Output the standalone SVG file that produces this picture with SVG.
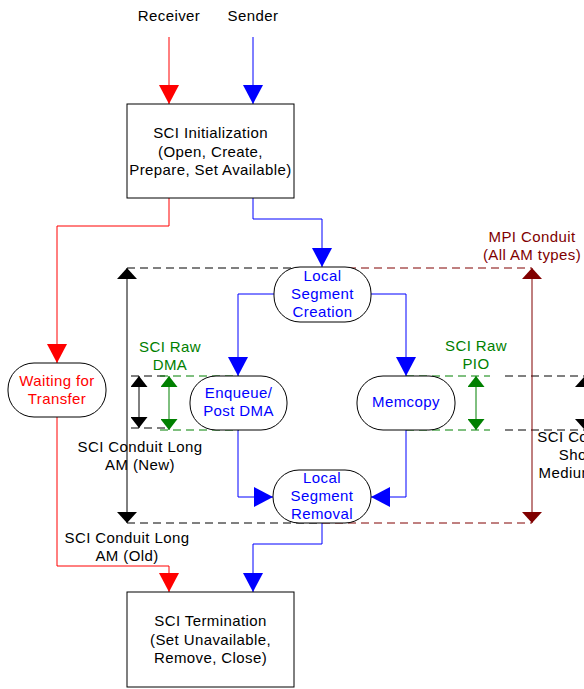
<svg xmlns="http://www.w3.org/2000/svg" width="584" height="689" viewBox="0 0 584 689">
  <style>
    text { font-family: "Liberation Sans", Arial, sans-serif; font-size: 15px; letter-spacing: 0.4px; text-anchor: middle; }
    .box { fill: #ffffff; stroke: #000000; stroke-width: 1; }
    .pill { fill: #ffffff; stroke: #000000; stroke-width: 1; }
    .k { fill: #000000; }
    .r { fill: #ff0000; }
    .b { fill: #0000ff; }
    .g { fill: #008000; }
    .m { fill: #800000; }
    .wire { fill: none; stroke-width: 1; }
    .red { stroke: #ff0000; }
    .blue { stroke: #0000ff; }
    .dash { fill: none; stroke-width: 1; stroke-dasharray: 8 5; }
    .dk { stroke: #000000; }
    .dg { stroke: #008000; }
    .dm { stroke: #800000; }
  </style>
  <defs>
    <marker id="ah-red" viewBox="0 0 19 20" refX="19" refY="10" markerWidth="19" markerHeight="20" markerUnits="userSpaceOnUse" orient="auto">
      <path d="M0,0 L19,10 L0,20 Z" fill="#ff0000"/>
    </marker>
    <marker id="ah-blue" viewBox="0 0 19 20" refX="19" refY="10" markerWidth="19" markerHeight="20" markerUnits="userSpaceOnUse" orient="auto">
      <path d="M0,0 L19,10 L0,20 Z" fill="#0000ff"/>
    </marker>
    <marker id="dim-black" viewBox="0 0 11 20" refX="11" refY="10" markerWidth="11" markerHeight="20" markerUnits="userSpaceOnUse" orient="auto-start-reverse">
      <path d="M0,0 L11,10 L0,20 Z" fill="#000000"/>
    </marker>
    <marker id="dim-maroon" viewBox="0 0 11 20" refX="11" refY="10" markerWidth="11" markerHeight="20" markerUnits="userSpaceOnUse" orient="auto-start-reverse">
      <path d="M0,0 L11,10 L0,20 Z" fill="#800000"/>
    </marker>
    <marker id="dim-black-s" viewBox="0 0 11 17" refX="11" refY="8.5" markerWidth="11" markerHeight="17" markerUnits="userSpaceOnUse" orient="auto-start-reverse">
      <path d="M0,0 L11,8.5 L0,17 Z" fill="#000000"/>
    </marker>
    <marker id="dim-green-s" viewBox="0 0 11 17" refX="11" refY="8.5" markerWidth="11" markerHeight="17" markerUnits="userSpaceOnUse" orient="auto-start-reverse">
      <path d="M0,0 L11,8.5 L0,17 Z" fill="#008000"/>
    </marker>
  </defs>

  <!-- dimension guides and extents -->
  <g id="extents">
    <path class="dash dk" d="M127,268 H322"/>
    <path class="dash dm" d="M322,268 H532"/>
    <path class="dash dk" d="M127,523 H322"/>
    <path class="dash dm" d="M322,523 H532"/>
    <path class="dash dk" d="M131,376 H165"/>
    <path class="dash dk" d="M131,428 H165"/>
    <path class="dash dg" d="M160,376 H239"/>
    <path class="dash dg" d="M160,430 H239"/>
    <path class="dash dg" d="M406,376 H490"/>
    <path class="dash dg" d="M406,430 H490"/>
    <path class="dash dk" d="M505,376 H595"/>
    <path class="dash dk" d="M505,430 H595"/>

    <line x1="127" y1="268" x2="127" y2="523" stroke="#000000" marker-start="url(#dim-black)" marker-end="url(#dim-black)"/>
    <line x1="532" y1="268" x2="532" y2="523" stroke="#800000" marker-start="url(#dim-maroon)" marker-end="url(#dim-maroon)"/>
    <line x1="139" y1="376" x2="139" y2="428" stroke="#000000" marker-start="url(#dim-black-s)" marker-end="url(#dim-black-s)"/>
    <line x1="169" y1="376" x2="169" y2="430" stroke="#008000" marker-start="url(#dim-green-s)" marker-end="url(#dim-green-s)"/>
    <line x1="476" y1="376" x2="476" y2="430" stroke="#008000" marker-start="url(#dim-green-s)" marker-end="url(#dim-green-s)"/>
    <line x1="585" y1="376" x2="585" y2="430" stroke="#000000" marker-start="url(#dim-black)" marker-end="url(#dim-black)"/>
  </g>

  <!-- connectors -->
  <g id="connectors">
    <path class="wire red" d="M169,37 V104" marker-end="url(#ah-red)"/>
    <path class="wire blue" d="M253,37 V104" marker-end="url(#ah-blue)"/>
    <path class="wire red" d="M169,198 V226 H57 V363" marker-end="url(#ah-red)"/>
    <path class="wire red" d="M57,417 V566 H169 V592" marker-end="url(#ah-red)"/>
    <path class="wire blue" d="M253,198 V219 H322 V267" marker-end="url(#ah-blue)"/>
    <path class="wire blue" d="M274,294 H238 V376" marker-end="url(#ah-blue)"/>
    <path class="wire blue" d="M371,294 H406 V376" marker-end="url(#ah-blue)"/>
    <path class="wire blue" d="M238,430 V497 H273" marker-end="url(#ah-blue)"/>
    <path class="wire blue" d="M406,430 V497 H371" marker-end="url(#ah-blue)"/>
    <path class="wire blue" d="M322,523 V544 H253 V592" marker-end="url(#ah-blue)"/>
  </g>

  <!-- labels -->
  <g id="labels">
    <text class="k" x="169" y="21">Receiver</text>
    <text class="k" x="253" y="21">Sender</text>
    <text class="m" x="532" y="242">MPI Conduit</text>
    <text class="m" x="532" y="260">(All AM types)</text>
    <text class="g" x="170" y="352">SCI Raw</text>
    <text class="g" x="170" y="369.5">DMA</text>
    <text class="g" x="476" y="351">SCI Raw</text>
    <text class="g" x="476" y="369">PIO</text>
    <text class="k" x="140" y="452">SCI Conduit Long</text>
    <text class="k" x="140" y="470">AM (New)</text>
    <text class="k" x="127" y="543">SCI Conduit Long</text>
    <text class="k" x="127" y="561">AM (Old)</text>
    <text class="k" x="580" y="442">SCI Conduit</text>
    <text class="k" x="580" y="460">Short/</text>
    <text class="k" x="580" y="478">Medium AM</text>
  </g>

  <g id="sci-init">
    <rect class="box" x="127" y="104" width="167" height="94"/>
    <text class="k" x="210.5" y="138">SCI Initialization</text>
    <text class="k" x="210.5" y="156.5">(Open, Create,</text>
    <text class="k" x="210.5" y="175">Prepare, Set Available)</text>
  </g>

  <g id="waiting">
    <rect class="pill" x="8" y="363" width="98" height="54" rx="26" ry="26"/>
    <text class="r" x="57" y="386">Waiting for</text>
    <text class="r" x="57" y="404">Transfer</text>
  </g>

  <g id="seg-create">
    <rect class="pill" x="274" y="267" width="97" height="55" rx="26" ry="26"/>
    <text class="b" x="322.5" y="281">Local</text>
    <text class="b" x="322.5" y="299">Segment</text>
    <text class="b" x="322.5" y="317">Creation</text>
  </g>

  <g id="enqueue">
    <rect class="pill" x="190" y="376" width="97" height="54" rx="26" ry="26"/>
    <text class="b" x="238.5" y="397.5">Enqueue/</text>
    <text class="b" x="238.5" y="416">Post DMA</text>
  </g>

  <g id="memcopy">
    <rect class="pill" x="357" y="376" width="98" height="54" rx="26" ry="26"/>
    <text class="b" x="406" y="407">Memcopy</text>
  </g>

  <g id="seg-remove">
    <rect class="pill" x="273" y="470" width="98" height="53" rx="26" ry="26"/>
    <text class="b" x="322" y="483">Local</text>
    <text class="b" x="322" y="501">Segment</text>
    <text class="b" x="322" y="519">Removal</text>
  </g>

  <g id="sci-term">
    <rect class="box" x="127" y="592" width="167" height="95"/>
    <text class="k" x="210.5" y="626">SCI Termination</text>
    <text class="k" x="210.5" y="644.5">(Set Unavailable,</text>
    <text class="k" x="210.5" y="663">Remove, Close)</text>
  </g>
</svg>
